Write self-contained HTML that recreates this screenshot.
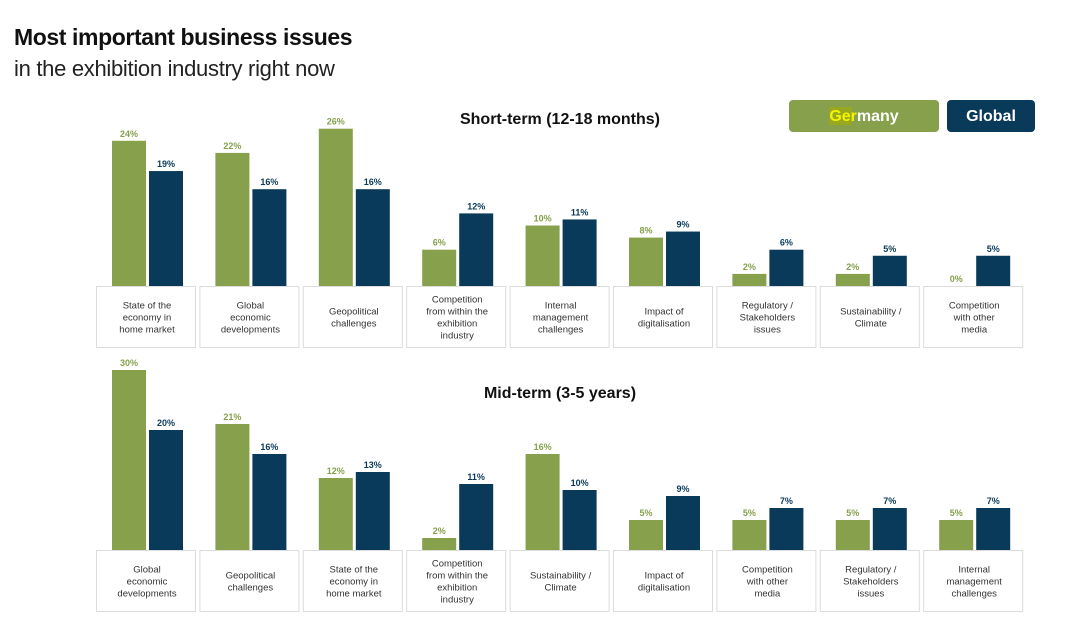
<!DOCTYPE html>
<html><head><meta charset="utf-8">
<style>
body{margin:0;background:#fff;width:1080px;height:629px;overflow:hidden;font-family:"Liberation Sans",sans-serif;}
svg text{font-family:"Liberation Sans",sans-serif;}
</style></head>
<body>
<svg id="chart" width="1080" height="629" viewBox="0 0 1080 629" xmlns="http://www.w3.org/2000/svg">
<text x="14" y="45" font-size="23" font-weight="bold" fill="#111" letter-spacing="-0.4">Most important business issues</text>
<text x="14" y="76" font-size="22" fill="#222" letter-spacing="-0.3">in the exhibition industry right now</text>
<g>
<rect x="789" y="100" width="150" height="32" rx="4" fill="#86a04c"/>
<rect x="829" y="107" width="23" height="18" fill="#9aa820"/>
<text x="864" y="121" font-size="16" font-weight="bold" text-anchor="middle" fill="#fff"><tspan fill="#f2f500">Ger</tspan>many</text>
<rect x="947" y="100" width="88" height="32" rx="4" fill="#0a3a5a"/>
<text x="991" y="121" font-size="16" font-weight="bold" text-anchor="middle" fill="#fff">Global</text>
</g>
</svg>
<script>
const shortCats=[["State of the","economy in","home market"],["Global","economic","developments"],["Geopolitical","challenges"],["Competition","from within the","exhibition","industry"],["Internal","management","challenges"],["Impact of","digitalisation"],["Regulatory /","Stakeholders","issues"],["Sustainability /","Climate"],["Competition","with other","media"]];
const shortGermany=[24,22,26,6,10,8,2,2,0];
const shortGlobal=[19,16,16,12,11,9,6,5,5];
const midCats=[["Global","economic","developments"],["Geopolitical","challenges"],["State of the","economy in","home market"],["Competition","from within the","exhibition","industry"],["Sustainability /","Climate"],["Impact of","digitalisation"],["Competition","with other","media"],["Regulatory /","Stakeholders","issues"],["Internal","management","challenges"]];
const midGermany=[30,21,12,2,16,5,5,5,5];
const midGlobal=[20,16,13,11,10,9,7,7,7];

const svg=document.getElementById('chart');
const NS='http://www.w3.org/2000/svg';
function mk(tag,attrs,parent){const e=document.createElementNS(NS,tag);for(const k in attrs)e.setAttribute(k,attrs[k]);parent.appendChild(e);return e;}
function panel(name,title,titleY,baseY,scale,cats,ger,glo){
  const g=mk('g',{},svg);
  
  
  const t=mk('text',{x:560,y:titleY,'font-size':16,'font-weight':'bold','text-anchor':'middle',fill:'#111'},g);
  
  
  t.textContent=title;
  const xPos=i=>96+i*103.4;
  const yS=v=>baseY-v*scale;
  cats.forEach((c,i)=>{
    const x=xPos(i);
    const b=mk('rect',{x:x+0.5,y:baseY+0.5,width:99,height:61,fill:'#fff',stroke:'#dcdcdc'},g);
    
    
    const n=c.length, lh=12, cy=baseY+31-(n-1)*lh/2+3.5;
    c.forEach((ln,j)=>{
      const tt=mk('text',{x:x+51,y:cy+j*lh,'font-size':9.5,'text-anchor':'middle',fill:'#333'},g);
      
      
      tt.textContent=ln;
    });
    [[ger[i],16,'#86a04c','germany'],[glo[i],53,'#0a3a5a','global']].forEach(([v,off,col,s])=>{
      const r=mk('rect',{x:x+off,y:yS(v),width:34,height:v*scale,fill:col},g);
      
      
      const l=mk('text',{x:x+off+17,y:yS(v)-4,'font-size':9,'font-weight':'bold','text-anchor':'middle',fill:col},g);
      
      
      l.textContent=v+'%';
    });
  });
}
panel('short-term-panel','Short-term (12-18 months)',124,286,6.05,shortCats,shortGermany,shortGlobal);
panel('mid-term-panel','Mid-term (3-5 years)',398,550,6.0,midCats,midGermany,midGlobal);
</script>
</body></html>
